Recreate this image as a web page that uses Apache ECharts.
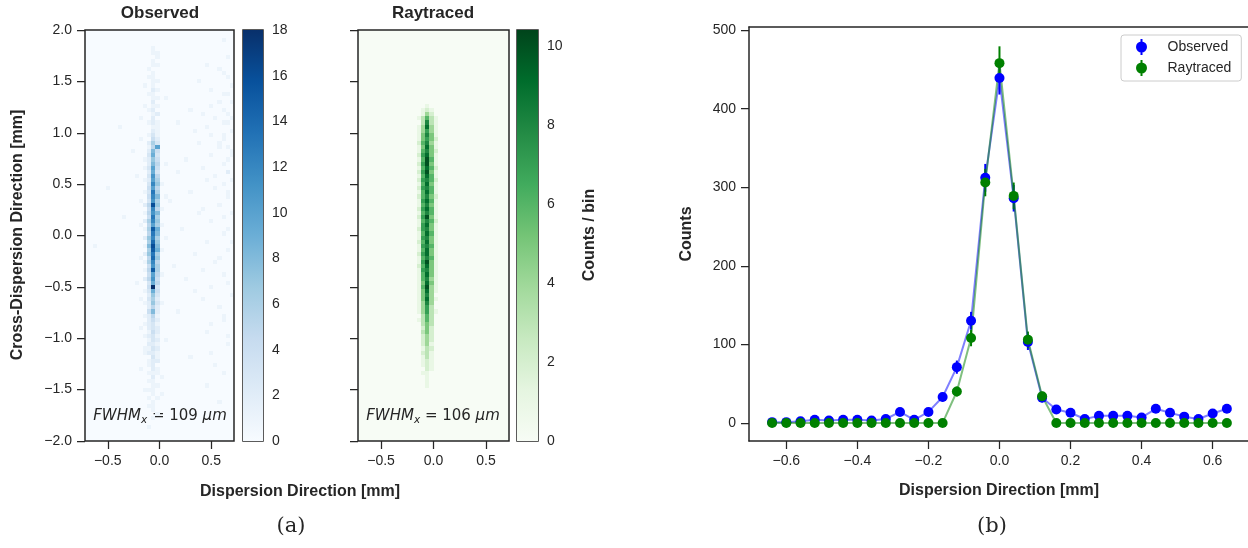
<!DOCTYPE html>
<html>
<head>
<meta charset="utf-8">
<script src="https://cdn.jsdelivr.net/npm/echarts@6.0.0/dist/echarts.min.js"></script>
<style>
  html, body { margin: 0; padding: 0; background: #ffffff; }
  #chart-container { width: 1248px; height: 548px; }
</style>
</head>
<body>
<div id="chart-container"></div>
<script>
// 2D histograms: one entry per y-bin (top row first), "xbin:count" pairs, empty = no counts
const observedRows = [
  "", "", "33:1", "", "16:1", "16:1,17:1", "17:1,34:1", "16:1", "16:1,17:1,29:1", "15:1,32:1",
  "16:1,33:1", "15:1,16:1,34:1", "16:1,17:1,27:1", "14:1,16:1,35:1", "16:2,17:1,30:1",
  "15:1,16:1,33:1,34:1", "16:1,17:1,19:1", "16:2,32:1,35:1", "14:1,16:1,17:1,30:1", "15:1,16:2,25:1,33:1",
  "16:1,17:2,28:1,34:1", "13:1,16:2,31:1,35:1", "15:1,16:2,17:1,22:1,33:1,34:1", "8:1,16:1,17:1,29:1", "16:2,17:1,26:1,35:1",
  "15:1,16:3,17:1,30:1,33:1", "13:1,16:4,17:2,33:1", "15:2,16:6,17:3,27:1,32:1", "15:1,16:5,17:10,32:1,34:1", "11:1,15:2,16:8,17:4,35:1",
  "15:3,16:9,17:3,30:1,35:1", "14:1,15:2,16:7,17:4,24:1,34:1", "15:2,16:8,17:5,19:1,33:1", "14:1,15:3,16:10,17:4,28:1", "15:2,16:9,17:3,22:1,34:2",
  "12:1,15:3,16:11,17:5,31:1", "14:1,15:2,16:10,17:6,29:1,35:1", "15:3,16:12,17:7,18:1,33:1", "5:1,15:4,16:10,17:5,31:1", "14:1,15:3,16:13,17:6,25:1,34:1",
  "15:4,16:12,17:8,19:1,34:1", "13:1,15:3,16:11,17:6,20:1", "14:2,15:5,16:16,17:7,32:1", "15:4,16:12,17:5,18:1,28:1", "14:1,15:5,16:11,17:8,27:1,35:1",
  "9:1,15:4,16:13,17:6,33:1", "14:2,15:6,16:12,17:7,30:1", "13:1,15:5,16:10,17:6,18:1", "14:1,15:6,16:15,17:9,23:1,34:1", "15:5,16:13,17:8,33:1",
  "14:2,15:7,16:12,17:6,19:1", "15:6,16:14,17:7,29:1,35:1", "2:1,14:1,15:8,16:16,17:8", "15:6,16:15,17:9,18:1,34:1", "14:2,15:7,16:13,17:6,26:1",
  "13:1,15:5,16:14,17:7,32:1", "14:1,15:6,16:12,17:5,31:1", "15:4,16:11,17:6,21:1", "14:1,15:5,16:15,17:6,28:1", "15:4,16:10,17:5,18:1,33:1",
  "14:2,15:5,16:11,17:4,24:1", "12:1,15:3,16:9,17:5,34:1", "15:4,16:18,17:3,30:1", "14:1,15:3,16:9,17:4,26:1", "15:2,16:7,17:3,35:1",
  "13:1,15:3,16:6,17:2,28:1", "14:1,15:2,16:7,17:3,18:1", "15:2,16:5,17:2,32:1", "15:4,16:8,17:2,22:1", "14:1,15:2,16:5,17:1,33:1",
  "15:2,16:4,17:2,33:1", "14:1,15:2,16:3,17:1,30:1", "13:1,15:2,16:3,17:2", "15:1,16:4,17:2,29:1", "14:1,15:2,16:3,17:1,34:1",
  "15:1,16:3,17:2,19:1", "15:2,16:2,17:1,34:1", "14:1,15:1,16:3,17:2", "14:1,15:2,16:2,17:1,30:1", "16:3,17:1,25:1",
  "15:1,16:2,17:2", "15:1,16:2,31:1", "13:1,16:2,17:1", "15:1,16:1,17:1,33:1", "16:2,18:1",
  "15:1,16:1", "16:1,17:1,29:1", "14:1,15:1,16:1", "16:1,18:1", "15:1,17:1",
  "16:1,32:1", "15:1,16:1", "16:1", "17:1", "16:1",
  "", "15:1", "", "", ""
];

const raytracedRows = [
  "", "", "", "", "", "", "", "", "", "",
  "", "", "", "", "", "", "", "", "16:1", "15:1,16:2,17:1",
  "15:1,16:4,17:2", "14:1,15:3,16:6,17:3,18:1", "15:3,16:8,17:3,18:1", "14:1,15:4,16:9,17:4,18:1", "14:1,15:4,16:7,17:4,18:1",
  "14:1,15:5,16:8,17:5,18:1", "14:1,15:5,16:7,17:5,18:2", "14:2,15:6,16:8,17:4,18:1", "14:1,15:5,16:9,17:5,18:1", "14:1,15:6,16:8,17:5,18:2",
  "14:2,15:7,16:9,17:5,18:1", "14:1,15:6,16:10,17:6,18:1", "14:2,15:7,16:10,17:5,18:1", "14:1,15:6,16:9,17:6,18:2", "14:2,15:7,16:10,17:5,18:1",
  "14:1,15:6,16:9,17:6,18:1", "14:2,15:7,16:8,17:6,18:2", "14:1,15:6,16:9,17:5,18:1", "14:2,15:7,16:8,17:6,18:1", "14:1,15:6,16:9,17:6,18:1",
  "14:2,15:6,16:8,17:5,18:2", "14:1,15:7,16:9,17:6,18:1", "14:1,15:6,16:8,17:5,18:1", "14:2,15:7,16:9,17:6,18:1", "14:1,15:6,16:8,17:6,18:1",
  "14:2,15:7,16:10,17:5,18:1", "14:1,15:6,16:8,17:6,18:2", "14:1,15:7,16:9,17:5,18:1", "14:2,15:7,16:8,17:5,18:1", "14:1,15:6,16:9,17:6,18:1",
  "14:1,15:7,16:8,17:5,18:1", "14:2,15:6,16:9,17:5,18:1", "14:1,15:7,16:8,17:6,18:1", "14:1,15:6,16:9,17:5,18:1", "14:2,15:7,16:9,17:5,18:1",
  "14:1,15:6,16:8,17:6,18:1", "14:1,15:7,16:10,17:5,18:1", "14:2,15:6,16:9,17:5,18:1", "14:1,15:7,16:8,17:5,18:1", "14:1,15:6,16:9,17:5,18:1",
  "14:1,15:6,16:8,17:4,18:1", "14:1,15:5,16:9,17:5,18:1", "14:1,15:6,16:10,17:4,18:1", "14:1,15:5,16:9,17:4,18:1", "14:1,15:5,16:8,17:4",
  "14:1,15:5,16:9,17:4,18:1", "14:1,15:4,16:8,17:4", "14:1,15:4,16:7,17:3", "14:1,15:4,16:7,17:3,18:1", "15:3,16:6,17:3",
  "14:1,15:3,16:6,17:3", "15:3,16:5,17:3", "15:2,16:5,17:2", "15:3,16:5,17:2", "15:2,16:4,17:2",
  "15:2,16:4,17:2", "15:2,16:4,17:1", "15:1,16:3,17:2", "15:2,16:3,17:1", "15:1,16:3,17:1",
  "15:1,16:2,17:1", "15:1,16:2,17:1", "16:2,17:1", "15:1,16:1", "16:1",
  "16:1", "16:1", "", "", "",
  "", "", "", "", ""
];

// collapsed profile along the dispersion direction
const dispersionX = [-0.64, -0.60, -0.56, -0.52, -0.48, -0.44, -0.40, -0.36, -0.32, -0.28, -0.24,
  -0.20, -0.16, -0.12, -0.08, -0.04, 0.00, 0.04, 0.08, 0.12, 0.16, 0.20, 0.24, 0.28, 0.32, 0.36,
  0.40, 0.44, 0.48, 0.52, 0.56, 0.60, 0.64];
const observedCounts = [1, 1, 2, 4, 3, 4, 4, 3, 5, 14, 4, 14, 33, 71, 130, 312, 439, 286, 103, 32, 17,
  13, 5, 9, 9, 9, 7, 18, 13, 8, 5, 12, 18];
const observedErr = [1, 1, 1.4, 2, 1.7, 2, 2, 1.7, 2.2, 3.7, 2, 3.7, 5.7, 8.4, 11.4, 17.7, 21, 16.9, 10.1,
  5.7, 4.1, 3.6, 2.2, 3, 3, 3, 2.6, 4.2, 3.6, 2.8, 2.2, 3.5, 4.2];
const raytracedCounts = [0, 0, 0, 0, 0, 0, 0, 0, 0, 0, 0, 0, 0, 40, 108, 306, 458, 289, 106, 34, 0,
  0, 0, 0, 0, 0, 0, 0, 0, 0, 0, 0, 0];
const raytracedErr = [0, 0, 0, 0, 0, 0, 0, 0, 0, 0, 0, 0, 0, 6.3, 10.4, 17.5, 21.4, 17, 10.3, 5.8, 0,
  0, 0, 0, 0, 0, 0, 0, 0, 0, 0, 0, 0];

const heatXTicks = [-0.5, 0, 0.5];
const profileXTicks = [-0.6, -0.4, -0.2, 0, 0.2, 0.4, 0.6];
const countTicks = [0, 100, 200, 300, 400, 500];
const obsBarTicks = [0, 2, 4, 6, 8, 10, 12, 14, 16, 18];
const rayBarTicks = [0, 2, 4, 6, 8, 10];
const obsMax = 18;
const rayMax = 10.4;

const blues = ['#f7fbff', '#deebf7', '#c6dbef', '#9ecae1', '#6baed6', '#4292c6', '#2171b5', '#08519c', '#08306b'];
const greens = ['#f7fcf5', '#e5f5e0', '#c7e9c0', '#a1d99b', '#74c476', '#41ab5d', '#238b45', '#006d2c', '#00441b'];

// bin geometry: 36 x 100 bins of 0.04 mm
const binStep = 0.04;
const xBinCenters = Array.from({length: 36}, (_, i) => -0.72 + binStep * (i + 0.5));
const yBinCenters = Array.from({length: 100}, (_, r) => 2 - binStep * (r + 0.5));

function cellsFromRows(rows) {
  const cells = [];
  rows.forEach((row, r) => {
    if (!row) return;
    row.split(',').forEach(tok => {
      const [c, v] = tok.split(':').map(Number);
      cells.push([xBinCenters[c], yBinCenters[r], v]);
    });
  });
  return cells;
}

const ink = '#262626';
const sans = "'Liberation Sans', Arial, sans-serif";

function fmt1(v) {
  if (Math.abs(v) < 1e-9) return '0.0';
  return (v < 0 ? '\u2212' : '') + Math.abs(v).toFixed(1);
}

// keep cells inside the frame so the spine stays on top
function cellRender(params, api) {
  const cs = params.coordSys;
  const x = api.value(0), y = api.value(1);
  const p0 = api.coord([x - binStep / 2, y + binStep / 2]);
  const p1 = api.coord([x + binStep / 2, y - binStep / 2]);
  const x0 = Math.max(Math.round(p0[0]), Math.ceil(cs.x + 1));
  const x1 = Math.min(Math.round(p1[0]), Math.floor(cs.x + cs.width - 1));
  const y0 = Math.max(Math.round(p0[1]), Math.ceil(cs.y + 1));
  const y1 = Math.min(Math.round(p1[1]), Math.floor(cs.y + cs.height - 1));
  return {
    type: 'rect',
    shape: {x: x0, y: y0, width: x1 - x0, height: y1 - y0},
    style: {fill: api.visual('color')}
  };
}

function errRender(color) {
  return (params, api) => {
    const e = api.value(2);
    if (!e) return null;
    const top = api.coord([api.value(0), api.value(1) + e]);
    const bot = api.coord([api.value(0), api.value(1) - e]);
    return {
      type: 'line',
      shape: {x1: top[0], y1: top[1], x2: bot[0], y2: bot[1]},
      style: {stroke: color, lineWidth: 2}
    };
  };
}

function gradient(colors) {
  return new echarts.graphic.LinearGradient(0, 1, 0, 0,
    colors.map((c, i) => ({offset: i / (colors.length - 1), color: c})));
}

const noLine = {show: false, onZero: false};
const spine = {show: true, onZero: false, lineStyle: {color: ink, width: 1.5}};
const tickStyle = {lineStyle: {color: ink, width: 1.25}};
const labelStyle = {color: ink, fontSize: 14, fontFamily: sans};

function heatX(gridIndex) {
  return {
    type: 'value', gridIndex: gridIndex, min: -0.72, max: 0.72,
    axisLine: noLine, splitLine: {show: false},
    axisTick: Object.assign({length: 8, customValues: heatXTicks}, tickStyle),
    axisLabel: Object.assign({customValues: heatXTicks, formatter: fmt1, margin: 13}, labelStyle)
  };
}
function heatY(gridIndex, showLabels) {
  return {
    type: 'value', gridIndex: gridIndex, min: -2, max: 2, interval: 0.5,
    axisLine: noLine, splitLine: {show: false},
    axisTick: Object.assign({length: 8}, tickStyle),
    axisLabel: Object.assign({show: showLabels, formatter: fmt1, margin: 13}, labelStyle)
  };
}
function barX(gridIndex) {
  return {type: 'category', gridIndex: gridIndex, data: ['bar'], show: false, boundaryGap: true, axisLine: noLine};
}
function barY(gridIndex, max, ticks) {
  return {
    type: 'value', gridIndex: gridIndex, min: 0, max: max, position: 'right',
    axisLine: noLine, splitLine: {show: false},
    axisTick: Object.assign({length: 6, customValues: ticks}, tickStyle),
    axisLabel: Object.assign({customValues: ticks, margin: 9}, labelStyle)
  };
}

const fwhmRich = {
  i: {fontFamily: 'DejaVu Sans', fontStyle: 'italic', fontSize: 15, color: ink},
  s: {fontFamily: 'DejaVu Sans', fontStyle: 'italic', fontSize: 10.5, color: ink, padding: [9, 0, 0, 0]},
  n: {fontFamily: 'DejaVu Sans', fontSize: 15, color: ink}
};
const legendIcon = 'path://M5,0L7,0L7,16L5,16Z M0.5,8A5.5,5.5,0,1,1,11.5,8A5.5,5.5,0,1,1,0.5,8Z';

function label(x, y, text, opts) {
  return Object.assign({
    type: 'text', x: x, y: y,
    style: Object.assign({text: text, textAlign: 'center', textVerticalAlign: 'middle',
      fill: ink, font: 'bold 16px ' + sans}, opts && opts.style)
  }, opts && opts.el);
}

const chart = echarts.init(document.getElementById('chart-container'), null, {renderer: 'canvas'});

const option = {
  animation: false,
  backgroundColor: '#ffffff',
  grid: [
    {left: 85, top: 30, width: 149, height: 411, show: true, backgroundColor: blues[0], borderColor: ink, borderWidth: 1.5},
    {left: 243, top: 30, width: 20, height: 411, show: true, borderColor: ink, borderWidth: 1.5},
    {left: 358, top: 30, width: 151, height: 411, show: true, backgroundColor: greens[0], borderColor: ink, borderWidth: 1.5},
    {left: 517, top: 30, width: 21, height: 411, show: true, borderColor: ink, borderWidth: 1.5},
    {left: 749, top: 27, width: 499, height: 414}
  ],
  xAxis: [
    heatX(0), barX(1), heatX(2), barX(3),
    {
      type: 'value', gridIndex: 4, min: -0.705, max: 0.6995,
      axisLine: spine, splitLine: {show: false},
      axisTick: Object.assign({length: 8, customValues: profileXTicks}, tickStyle),
      axisLabel: Object.assign({customValues: profileXTicks, formatter: fmt1, margin: 13}, labelStyle)
    },
    {
      // top spine only
      type: 'value', gridIndex: 4, position: 'top', min: -0.705, max: 0.6995,
      axisLine: spine, axisTick: {show: false}, axisLabel: {show: false}, splitLine: {show: false}
    }
  ],
  yAxis: [
    heatY(0, true), barY(1, obsMax, obsBarTicks), heatY(2, false), barY(3, rayMax, rayBarTicks),
    {
      type: 'value', gridIndex: 4, min: -23, max: 504,
      axisLine: spine, splitLine: {show: false},
      axisTick: Object.assign({length: 8, customValues: countTicks}, tickStyle),
      axisLabel: Object.assign({customValues: countTicks, margin: 13}, labelStyle)
    }
  ],
  visualMap: [
    {type: 'continuous', show: false, seriesIndex: 0, dimension: 2, min: 0, max: obsMax, inRange: {color: blues}},
    {type: 'continuous', show: false, seriesIndex: 2, dimension: 2, min: 0, max: rayMax, inRange: {color: greens}}
  ],
  legend: {
    orient: 'vertical', left: 1121, top: 35,
    padding: [4, 10, 5, 15], itemWidth: 12, itemHeight: 16, itemGap: 5,
    backgroundColor: 'rgba(255,255,255,0.8)', borderColor: '#cccccc', borderWidth: 1, borderRadius: 3,
    textStyle: {fontSize: 14, color: ink, fontFamily: sans, padding: [0, 0, 0, 15]},
    data: [
      {name: 'Observed', icon: legendIcon, itemStyle: {color: '#0000ff', borderWidth: 0}},
      {name: 'Raytraced', icon: legendIcon, itemStyle: {color: '#008000', borderWidth: 0}}
    ]
  },
  series: [
    {type: 'custom', xAxisIndex: 0, yAxisIndex: 0, renderItem: cellRender, data: cellsFromRows(observedRows), clip: true},
    {type: 'bar', xAxisIndex: 1, yAxisIndex: 1, data: [obsMax], barWidth: '100%', itemStyle: {color: gradient(blues)}, silent: true},
    {type: 'custom', xAxisIndex: 2, yAxisIndex: 2, renderItem: cellRender, data: cellsFromRows(raytracedRows), clip: true},
    {type: 'bar', xAxisIndex: 3, yAxisIndex: 3, data: [rayMax], barWidth: '100%', itemStyle: {color: gradient(greens)}, silent: true},
    {
      type: 'custom', xAxisIndex: 4, yAxisIndex: 4, renderItem: errRender('#0000ff'),
      data: dispersionX.map((x, i) => [x, observedCounts[i], observedErr[i]])
    },
    {
      name: 'Observed', type: 'line', xAxisIndex: 4, yAxisIndex: 4,
      data: dispersionX.map((x, i) => [x, observedCounts[i]]),
      symbol: 'circle', symbolSize: 10, showAllSymbol: true,
      itemStyle: {color: '#0000ff'}, lineStyle: {color: '#0000ff', width: 2, opacity: 0.5}
    },
    {
      type: 'custom', xAxisIndex: 4, yAxisIndex: 4, renderItem: errRender('#008000'),
      data: dispersionX.map((x, i) => [x, raytracedCounts[i], raytracedErr[i]])
    },
    {
      name: 'Raytraced', type: 'line', xAxisIndex: 4, yAxisIndex: 4,
      data: dispersionX.map((x, i) => [x, raytracedCounts[i]]),
      symbol: 'circle', symbolSize: 10, showAllSymbol: true,
      itemStyle: {color: '#008000'}, lineStyle: {color: '#008000', width: 2, opacity: 0.5}
    }
  ],
  graphic: [
    label(160, 13, 'Observed', {style: {font: 'bold 17px ' + sans}}),
    label(433, 13, 'Raytraced', {style: {font: 'bold 17px ' + sans}}),
    label(18, 235, 'Cross-Dispersion Direction [mm]', {el: {rotation: Math.PI / 2}}),
    label(590, 235, 'Counts / bin', {el: {rotation: Math.PI / 2}}),
    label(300, 492, 'Dispersion Direction [mm]'),
    label(687, 234, 'Counts', {el: {rotation: Math.PI / 2}}),
    label(999, 491, 'Dispersion Direction [mm]'),
    label(291, 527, '(a)', {style: {font: '21px "DejaVu Serif", "Liberation Serif", serif'}}),
    label(992, 527, '(b)', {style: {font: '21px "DejaVu Serif", "Liberation Serif", serif'}}),
    label(160, 416, '{i|FWHM}{s|x}{n| = 109 }{i|\u03bcm}', {style: {rich: fwhmRich, font: '15px DejaVu Sans'}}),
    label(433, 416, '{i|FWHM}{s|x}{n| = 106 }{i|\u03bcm}', {style: {rich: fwhmRich, font: '15px DejaVu Sans'}})
  ]
};

chart.setOption(option);
</script>
</body>
</html>
